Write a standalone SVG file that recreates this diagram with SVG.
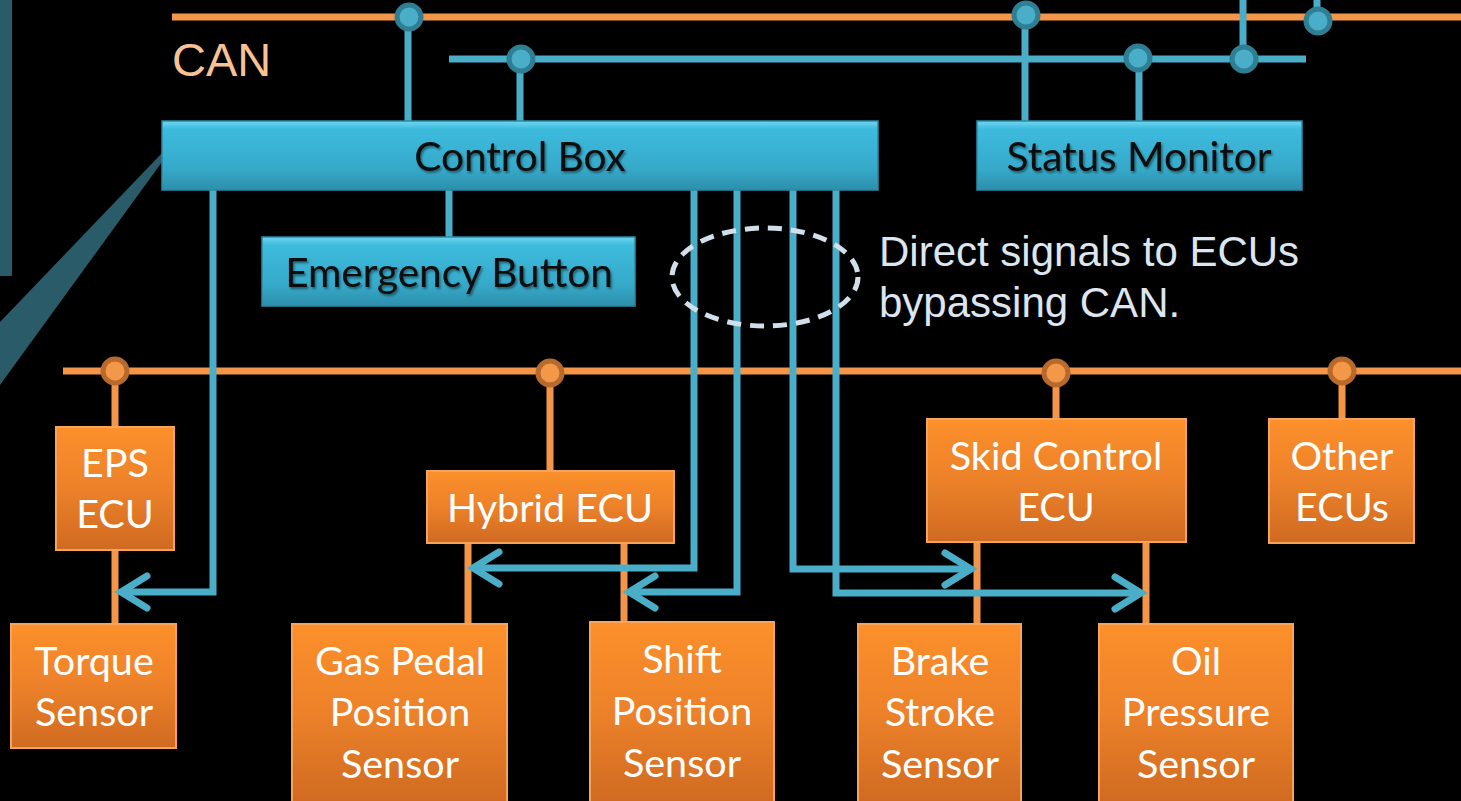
<svg xmlns="http://www.w3.org/2000/svg" width="1461" height="801" viewBox="0 0 1461 801">
<defs>
<linearGradient id="gTeal" x1="0" y1="0" x2="0" y2="1">
<stop offset="0" stop-color="#6fd6ef"/>
<stop offset="0.12" stop-color="#3dbbdd"/>
<stop offset="0.7" stop-color="#36a9c9"/>
<stop offset="1" stop-color="#2b8fab"/>
</linearGradient>
<linearGradient id="gOrange" x1="0" y1="0" x2="0" y2="1">
<stop offset="0" stop-color="#fc902b"/>
<stop offset="0.5" stop-color="#ec8129"/>
<stop offset="1" stop-color="#cf6a21"/>
</linearGradient>
<filter id="ts" x="-10%" y="-20%" width="120%" height="150%">
<feDropShadow dx="1.5" dy="2" stdDeviation="1.2" flood-color="#000" flood-opacity="0.45"/>
</filter>
<marker id="arr" viewBox="0 0 40 40" refX="33" refY="20" markerWidth="40" markerHeight="40" markerUnits="userSpaceOnUse" orient="auto">
<path d="M7 4 L33 20 L7 36" fill="none" stroke="#4aaec8" stroke-width="7" stroke-linecap="round" stroke-linejoin="miter"/>
</marker>
</defs>
<style>
.teal{fill:url(#gTeal);stroke:#2b8aa6;stroke-width:1.5}
.orng{fill:url(#gOrange);stroke:#f7a45a;stroke-width:2}
.bt{font-family:Lato,"Open Sans","Liberation Sans",sans-serif;font-size:40.5px;fill:#0a0a0a;text-anchor:middle}
.ot{font-family:Lato,"Open Sans","Liberation Sans",sans-serif;font-size:39.5px;fill:#ffffff;text-anchor:middle}
.wire{fill:none;stroke:#4aaec8;stroke-width:7}
.owire{fill:none;stroke:#f4964a;stroke-width:7}
.dotT{fill:#4aaec8;stroke:#2e7f94;stroke-width:5}
.dotO{fill:#f39848;stroke:#b8692c;stroke-width:5}
</style>
<rect width="1461" height="801" fill="#000"/>
<!-- decorative callout -->
<rect x="0" y="0" width="12" height="276" fill="#2a5b69"/>
<polygon points="162,153 0,322 0,385 162,162" fill="#2a5b69"/>

<g id="connectors">
<!-- buses -->
<line x1="172" y1="17" x2="1461" y2="17" class="owire" stroke-width="8"/>
<line x1="449" y1="59" x2="1306" y2="59" class="wire"/>
<line x1="63" y1="371" x2="1461" y2="371" class="owire"/>
<!-- teal bus drops -->
<line x1="408" y1="17" x2="408" y2="122" class="wire"/>
<line x1="520" y1="59" x2="520" y2="122" class="wire"/>
<line x1="1025" y1="15" x2="1025" y2="122" class="wire"/>
<line x1="1139" y1="59" x2="1139" y2="122" class="wire"/>
<line x1="1243" y1="0" x2="1243" y2="59" class="wire"/>
<line x1="1317" y1="0" x2="1317" y2="21" class="wire"/>
<line x1="449" y1="190" x2="449" y2="238" class="wire"/>
<!-- orange drops -->
<line x1="115" y1="371" x2="115" y2="427" class="owire"/>
<line x1="550" y1="373" x2="550" y2="471" class="owire"/>
<line x1="1056" y1="373" x2="1056" y2="419" class="owire"/>
<line x1="1342" y1="371" x2="1342" y2="419" class="owire"/>
<line x1="115" y1="550" x2="115" y2="624" class="owire"/>
<line x1="468" y1="543" x2="468" y2="624" class="owire"/>
<line x1="624" y1="543" x2="624" y2="622" class="owire"/>
<line x1="977" y1="542" x2="977" y2="624" class="owire"/>
<line x1="1146" y1="542" x2="1146" y2="624" class="owire"/>
<!-- direct signals -->
<polyline points="213,190 213,592 121,592" class="wire" marker-end="url(#arr)"/>
<polyline points="694,190 694,568 473,568" class="wire" marker-end="url(#arr)"/>
<polyline points="737,190 737,592 629,592" class="wire" marker-end="url(#arr)"/>
<polyline points="793,190 793,569 971,569" class="wire" marker-end="url(#arr)"/>
<polyline points="836,190 836,593 1141,593" class="wire" marker-end="url(#arr)"/>
<!-- bus dots -->
<circle cx="409" cy="17" r="12" class="dotT"/>
<circle cx="521" cy="59" r="12" class="dotT"/>
<circle cx="1026" cy="15" r="12" class="dotT"/>
<circle cx="1138" cy="58" r="12" class="dotT"/>
<circle cx="1244" cy="59" r="12" class="dotT"/>
<circle cx="1318" cy="21" r="12" class="dotT"/>
<circle cx="115" cy="371" r="12" class="dotO"/>
<circle cx="550" cy="373" r="12" class="dotO"/>
<circle cx="1056" cy="373" r="12" class="dotO"/>
<circle cx="1342" cy="371" r="12" class="dotO"/>
<!-- dashed ellipse -->
<ellipse cx="765" cy="277" rx="93" ry="49" fill="none" stroke="#d2deea" stroke-width="5" stroke-dasharray="14 9"/>
</g>

<text x="172" y="76" font-family="'Liberation Sans',Arial,sans-serif" font-size="47" fill="#f9c294">CAN</text>
<text font-family="'Liberation Sans',Arial,sans-serif" font-size="42" fill="#dde6f0"><tspan x="879" y="266">Direct signals to ECUs</tspan><tspan x="879" y="317">bypassing CAN.</tspan></text>

<g id="control-box"><rect x="162" y="121" width="716" height="69" class="teal"/><text x="520" y="171" class="bt" filter="url(#ts)">Control Box</text></g>
<g id="status-monitor"><rect x="977" y="121" width="325" height="69" class="teal"/><text x="1139" y="171" class="bt" filter="url(#ts)">Status Monitor</text></g>
<g id="emergency-button"><rect x="262" y="237" width="373" height="69" class="teal"/><text x="449" y="287" class="bt" filter="url(#ts)">Emergency Button</text></g>

<g id="eps-ecu"><rect x="56" y="427" width="118" height="123" class="orng"/><text class="ot"><tspan x="115" y="477">EPS</tspan><tspan x="115" y="528">ECU</tspan></text></g>
<g id="hybrid-ecu"><rect x="427" y="471" width="247" height="72" class="orng"/><text x="550" y="522" class="ot">Hybrid ECU</text></g>
<g id="skid-control-ecu"><rect x="927" y="419" width="259" height="123" class="orng"/><text class="ot"><tspan x="1056" y="470">Skid Control</tspan><tspan x="1056" y="521">ECU</tspan></text></g>
<g id="other-ecus"><rect x="1269" y="419" width="145" height="124" class="orng"/><text class="ot"><tspan x="1342" y="470">Other</tspan><tspan x="1342" y="521">ECUs</tspan></text></g>

<g id="torque-sensor"><rect x="11" y="624" width="165" height="124" class="orng"/><text class="ot"><tspan x="94" y="675">Torque</tspan><tspan x="94" y="726">Sensor</tspan></text></g>
<g id="gas-pedal-sensor"><rect x="292" y="624" width="215" height="180" class="orng"/><text class="ot"><tspan x="400" y="675">Gas Pedal</tspan><tspan x="400" y="726">Position</tspan><tspan x="400" y="778">Sensor</tspan></text></g>
<g id="shift-position-sensor"><rect x="590" y="622" width="184" height="182" class="orng"/><text class="ot"><tspan x="682" y="673">Shift</tspan><tspan x="682" y="725">Position</tspan><tspan x="682" y="777">Sensor</tspan></text></g>
<g id="brake-stroke-sensor"><rect x="858" y="624" width="163" height="180" class="orng"/><text class="ot"><tspan x="940" y="675">Brake</tspan><tspan x="940" y="726">Stroke</tspan><tspan x="940" y="778">Sensor</tspan></text></g>
<g id="oil-pressure-sensor"><rect x="1099" y="624" width="194" height="180" class="orng"/><text class="ot"><tspan x="1196" y="675">Oil</tspan><tspan x="1196" y="726">Pressure</tspan><tspan x="1196" y="778">Sensor</tspan></text></g>
</svg>
